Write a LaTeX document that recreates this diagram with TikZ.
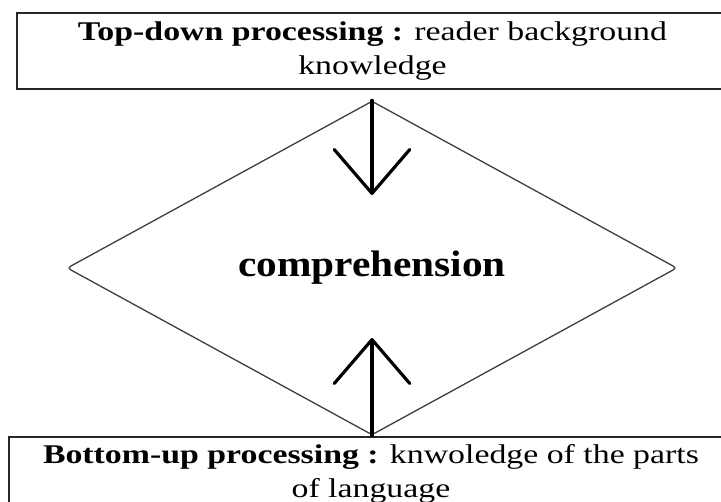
\documentclass[tikz,border=0pt]{standalone}
\usepackage{graphicx}
\usepackage{fontspec}
\setmainfont{Liberation Serif}
\usetikzlibrary{arrows.meta,shapes.geometric}
\tikzset{
  procbox/.style={draw=black!85, line width=0.9pt, rectangle, inner sep=0pt, align=center},
  bigarrow/.style={line width=1.8pt, line cap=round,
    -{Straight Barb[length=25pt,width=43pt,line cap=round,line join=round]}},
}
% text set a bit wider than the font gives
\newcommand{\stretchx}[2]{\scalebox{#1}[1]{#2}}
\newcommand{\boxtext}[2]{\stretchx{1.25}{\fontsize{15.4}{19.4}\selectfont
  \begin{tabular}{@{}c@{}}#1\\ #2\end{tabular}}}

\begin{document}
\begin{tikzpicture}[x=0.02cm, y=-0.02cm]
\clip (0,0) rectangle (721,501);
\node[procbox, minimum width=14.22cm, minimum height=1.52cm] (topdown) at (372.5,51)
  {\boxtext{\textbf{Top-down processing :} reader background}{knowledge}};
\node[procbox, minimum width=14.48cm, minimum height=1.45cm] (bottomup) at (371,473.5)
  {\boxtext{\textbf{Bottom-up processing :} knwoledge of the parts}{of language}};
\node[diamond, draw=black!75, line width=0.75pt, rounded corners=2pt, inner sep=0pt,
  minimum width=12.2cm, minimum height=6.68cm] (comp) at (372,268)
  {\stretchx{1.12}{\fontsize{21}{25}\selectfont\bfseries comprehension}};
\coordinate (tdtip) at (372,195);
\coordinate (butip) at (372,338);
\draw[bigarrow] (comp.north) -- (tdtip);
\draw[bigarrow] (comp.south) -- (butip);
\end{tikzpicture}
\end{document}
